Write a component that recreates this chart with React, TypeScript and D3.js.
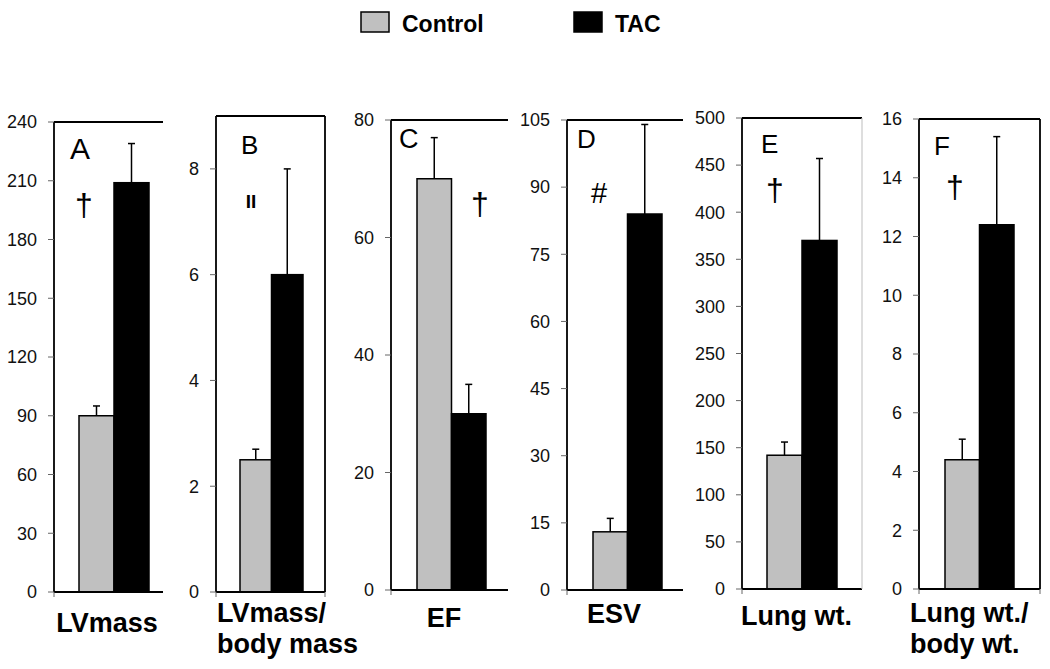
import React from "react";
import * as d3 from "d3";

// ---- data ----
const panelIds = ["A", "B", "C", "D", "E", "F"];
const seriesNames = ["Control", "TAC"];
const seriesColors = ["#c0c0c0", "#000000"];
const controlMean = [90, 2.5, 70, 13, 142, 4.4];
const controlErr = [5, 0.2, 7, 3, 14, 0.7];
const tacMean = [209, 6.0, 30, 84, 370, 12.4];
const tacErr = [20, 2.0, 5, 20, 87, 3.0];
const yMax = [240, 9, 80, 105, 500, 16];
const yTicksA = [0, 30, 60, 90, 120, 150, 180, 210, 240];
const yTicksB = [0, 2, 4, 6, 8];
const yTicksC = [0, 20, 40, 60, 80];
const yTicksD = [0, 15, 30, 45, 60, 75, 90, 105];
const yTicksE = [0, 50, 100, 150, 200, 250, 300, 350, 400, 450, 500];
const yTicksF = [0, 2, 4, 6, 8, 10, 12, 14, 16];
const yTicks = [yTicksA, yTicksB, yTicksC, yTicksD, yTicksE, yTicksF];
const categoryLines = [
  ["LVmass"],
  ["LVmass/", "body mass"],
  ["EF"],
  ["ESV"],
  ["Lung wt."],
  ["Lung wt./", "body wt."],
];
const sigMarks = ["\u2020", "II", "\u2020", "#", "\u2020", "\u2020"];

// ---- layout ----
const panelBox = [
  { x0: 54, x1: 163, top: 122, bottom: 592, b0: 79, b1: 149, right: "none" },
  { x0: 216, x1: 325, top: 116, bottom: 592, b0: 240, b1: 303, right: "#000" },
  { x0: 391, x1: 508, top: 120, bottom: 590, b0: 417, b1: 486, right: "none" },
  { x0: 567, x1: 683, top: 120, bottom: 590, b0: 593, b1: 662, right: "none" },
  { x0: 742, x1: 862, top: 118, bottom: 589, b0: 767, b1: 837, right: "#c8c8c8" },
  { x0: 919, x1: 1040, top: 119, bottom: 589, b0: 945, b1: 1014, right: "#000" },
];
const letterPos = [
  { x: 70, y: 159, size: 30 },
  { x: 241, y: 154, size: 26 },
  { x: 399, y: 148, size: 27 },
  { x: 577, y: 148, size: 26 },
  { x: 761, y: 153, size: 26 },
  { x: 934, y: 155, size: 26 },
];
const sigPos = [
  { x: 84, y: 216, size: 32, weight: 400 },
  { x: 251, y: 208, size: 19, weight: 700 },
  { x: 480, y: 215, size: 32, weight: 400 },
  { x: 599, y: 203, size: 29, weight: 400 },
  { x: 775, y: 201, size: 32, weight: 400 },
  { x: 955, y: 198, size: 32, weight: 400 },
];
const labelPos = [
  { x: 107, y: 632, anchor: "middle" },
  { x: 217, y: 622, anchor: "start" },
  { x: 444, y: 627, anchor: "middle" },
  { x: 614, y: 623, anchor: "middle" },
  { x: 741, y: 625, anchor: "start" },
  { x: 910, y: 622, anchor: "start" },
];

const FONT = "'Liberation Sans', Arial, Helvetica, sans-serif";

function Panel({ i }: { i: number }) {
  const p = panelBox[i];
  const y = d3.scaleLinear().domain([0, yMax[i]]).range([p.bottom, p.top]);
  const x = d3.scaleBand<string>().domain(seriesNames).range([p.b0, p.b1]).padding(0);
  const means = [controlMean[i], tacMean[i]];
  const errs = [controlErr[i], tacErr[i]];
  const lw = 1.8;
  return (
    <g>
      {seriesNames.map((s, k) => (
        <rect
          key={s}
          x={x(s)!}
          y={y(means[k])}
          width={x.bandwidth()}
          height={p.bottom - y(means[k])}
          fill={seriesColors[k]}
          stroke="#000"
          strokeWidth={1.5}
        />
      ))}
      {seriesNames.map((s, k) => {
        const cx = x(s)! + x.bandwidth() / 2;
        const yt = y(means[k] + errs[k]);
        return (
          <g key={"e" + s} stroke="#000" strokeWidth={1.5}>
            <line x1={cx} x2={cx} y1={y(means[k])} y2={yt} />
            <line x1={cx - 3.5} x2={cx + 3.5} y1={yt} y2={yt} />
          </g>
        );
      })}
      <line x1={p.x0} x2={p.x0} y1={p.top} y2={p.bottom} stroke="#000" strokeWidth={lw} />
      <line x1={p.x0} x2={p.x1} y1={p.top} y2={p.top} stroke="#000" strokeWidth={lw} />
      <line x1={p.x0} x2={p.x1} y1={p.bottom} y2={p.bottom} stroke="#000" strokeWidth={lw} />
      {p.right !== "none" && (
        <line x1={p.x1} x2={p.x1} y1={p.top} y2={p.bottom} stroke={p.right} strokeWidth={p.right === "#000" ? lw : 1.2} />
      )}
      <line x1={p.x0} x2={p.x0} y1={p.bottom} y2={p.bottom + 5} stroke="#666" strokeWidth={1} />
      {p.right === "#000" && (
        <line x1={p.x1} x2={p.x1} y1={p.bottom} y2={p.bottom + 5} stroke="#666" strokeWidth={1} />
      )}
      {yTicks[i].map((t) => (
        <g key={t}>
          <line x1={p.x0 - 6} x2={p.x0} y1={y(t)} y2={y(t)} stroke="#666" strokeWidth={1} />
          <text
            x={p.x0 - 17}
            y={y(t)}
            dy="0.35em"
            textAnchor="end"
            fontSize={18}
            fontFamily={FONT}
            fill="#111"
          >
            {t}
          </text>
        </g>
      ))}
      <text x={letterPos[i].x} y={letterPos[i].y} fontSize={letterPos[i].size} fontFamily={FONT} fill="#000">
        {panelIds[i]}
      </text>
      <text
        x={sigPos[i].x}
        y={sigPos[i].y}
        fontSize={sigPos[i].size}
        fontWeight={sigPos[i].weight}
        textAnchor="middle"
        fontFamily={FONT}
        fill="#000"
      >
        {sigMarks[i]}
      </text>
      <text
        x={labelPos[i].x}
        y={labelPos[i].y}
        textAnchor={labelPos[i].anchor as any}
        fontSize={27}
        fontWeight={700}
        fontFamily={FONT}
        fill="#000"
      >
        {categoryLines[i].map((ln, j) => (
          <tspan key={j} x={labelPos[i].x} dy={j === 0 ? 0 : 31}>
            {ln}
          </tspan>
        ))}
      </text>
    </g>
  );
}

export default function App() {
  const legendX = [361, 574];
  return (
    <svg
      width={1050}
      height={669}
      style={{ position: "absolute", left: 0, top: 0, background: "#fff" }}
    >
      <rect x={0} y={0} width={1050} height={669} fill="#fff" />
      {seriesNames.map((s, k) => (
        <g key={s}>
          <rect
            x={legendX[k]}
            y={12}
            width={28}
            height={20}
            fill={seriesColors[k]}
            stroke="#000"
            strokeWidth={1.5}
          />
          <text x={legendX[k] + 41} y={32} fontSize={23} fontWeight={700} fontFamily={FONT} fill="#000">
            {s}
          </text>
        </g>
      ))}
      {panelIds.map((id, i) => (
        <Panel key={id} i={i} />
      ))}
    </svg>
  );
}
